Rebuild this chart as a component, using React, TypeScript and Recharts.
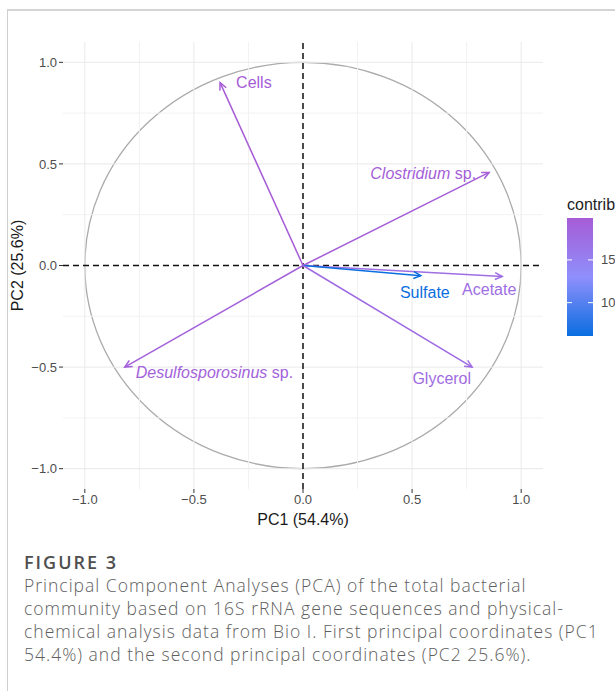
import {
  ComposedChart, XAxis, YAxis, Scatter, ReferenceLine, ReferenceArea
} from 'recharts'

// variable loadings on PC1 / PC2 and their contribution (%)
const variables = ['Cells', 'Clostridium sp.', 'Acetate', 'Sulfate', 'Glycerol', 'Desulfosporosinus sp.']
const pc1 = [-0.38, 0.853, 0.913, 0.54, 0.775, -0.817]
const pc2 = [0.9, 0.458, -0.054, -0.05, -0.5, -0.5]
const contrib = [19.9, 19.6, 17.5, 6.1, 17.7, 19.1]

const axisTicks = [-1, -0.5, 0, 0.5, 1]
const minorGrid = [-0.75, -0.25, 0.25, 0.75]
const majorGrid = [-1, -0.5, 0.5, 1]
const legendTicks = [10, 15]
const contribRange = [6.1, 19.9]

const FONT = '"Liberation Sans", Arial, Helvetica, sans-serif'
const LOW = [10, 110, 224]
const MID = [143, 143, 252]
const HIGH = [166, 92, 214]

// label placement relative to the arrow tip, in pixels
const labelStyle: Record<string, { dx: number; dy: number; anchor: 'start' | 'middle' | 'end' }> = {
  'Cells': { dx: 16, dy: 0, anchor: 'start' },
  'Clostridium sp.': { dx: -13, dy: 1, anchor: 'end' },
  'Acetate': { dx: -13, dy: 13, anchor: 'middle' },
  'Sulfate': { dx: 4, dy: 17, anchor: 'middle' },
  'Glycerol': { dx: -1, dy: 11, anchor: 'end' },
  'Desulfosporosinus sp.': { dx: 11, dy: 5, anchor: 'start' },
}

const mix = (a: number[], b: number[], t: number) =>
  `rgb(${a.map((c, i) => Math.round(c + (b[i] - c) * t)).join(',')})`

function contribColor(v: number): string {
  const [lo, hi] = contribRange
  const mid = (lo + hi) / 2
  if (v <= mid) return mix(LOW, MID, (v - lo) / (mid - lo))
  return mix(MID, HIGH, (v - mid) / (hi - mid))
}

const points = variables.map((name, i) => ({
  name, x: pc1[i], y: pc2[i], color: contribColor(contrib[i]),
}))

const fmt = (v: number) => (v < 0 ? '\u2212' + Math.abs(v).toFixed(1) : v.toFixed(1))

function Arrow(props: any) {
  const { x1, y1, x2, y2, color } = props
  const a = Math.atan2(y2 - y1, x2 - x1)
  const len = 8
  const spread = 0.45
  const h1x = x2 - len * Math.cos(a - spread)
  const h1y = y2 - len * Math.sin(a - spread)
  const h2x = x2 - len * Math.cos(a + spread)
  const h2y = y2 - len * Math.sin(a + spread)
  return (
    <g stroke={color} strokeWidth={1.5} fill="none">
      <line x1={x1} y1={y1} x2={x2} y2={y2} />
      <polyline points={`${h1x},${h1y} ${x2},${y2} ${h2x},${h2y}`} />
    </g>
  )
}

function Label(props: any) {
  const { cx, cy, payload } = props
  const s = labelStyle[payload.name]
  const italic = payload.name.endsWith(' sp.')
  const base = italic ? payload.name.slice(0, -4) : payload.name
  return (
    <text x={cx + s.dx} y={cy + s.dy} textAnchor={s.anchor} dominantBaseline="central"
      fill={payload.color} fontSize={16} fontFamily={FONT}>
      {italic ? (
        <>
          <tspan fontStyle="italic">{base}</tspan>
          <tspan>{' sp.'}</tspan>
        </>
      ) : base}
    </text>
  )
}

function Ellipse(props: any) {
  const { x, y, width, height } = props
  return (
    <ellipse cx={x + width / 2} cy={y + height / 2} rx={width / 2} ry={height / 2}
      fill="none" stroke="#ababab" strokeWidth={1.3} />
  )
}

function Legend() {
  const top = 218
  const h = 118
  const yOf = (v: number) => top + ((contribRange[1] - v) / (contribRange[1] - contribRange[0])) * h
  return (
    <svg width={615} height={540} style={{ position: 'absolute', left: 0, top: 0, pointerEvents: 'none' }}>
      <defs>
        <linearGradient id="contribGrad" x1="0" y1="0" x2="0" y2="1">
          <stop offset="0%" stopColor={mix(HIGH, HIGH, 0)} />
          <stop offset="50%" stopColor={mix(MID, MID, 0)} />
          <stop offset="100%" stopColor={mix(LOW, LOW, 0)} />
        </linearGradient>
      </defs>
      <text x={567} y={204} dominantBaseline="central" fontSize={16} fontFamily={FONT} fill="#222">
        contrib
      </text>
      <rect x={567} y={top} width={26} height={h} fill="url(#contribGrad)" />
      {legendTicks.map(v => (
        <g key={v}>
          <line x1={567} x2={572} y1={yOf(v)} y2={yOf(v)} stroke="#fff" strokeWidth={1} />
          <line x1={588} x2={593} y1={yOf(v)} y2={yOf(v)} stroke="#fff" strokeWidth={1} />
          <text x={601} y={yOf(v)} dominantBaseline="central" fontSize={13} fontFamily={FONT} fill="#4d4d4d">
            {v}
          </text>
        </g>
      ))}
    </svg>
  )
}

const captionLines = [
  'Principal Component Analyses (PCA) of the total bacterial',
  'community based on 16S rRNA gene sequences and physical-',
  'chemical analysis data from Bio I. First principal coordinates (PC1',
  '54.4%) and the second principal coordinates (PC2 25.6%).',
]

export default function App() {
  const tick = { fill: '#4d4d4d', fontSize: 13, fontFamily: FONT }
  return (
    <div style={{ position: 'absolute', left: 0, top: 0, width: 615, height: 691, overflow: 'hidden', background: '#fff' }}>
      <div style={{
        position: 'absolute', left: 7, top: 9, width: 700, height: 700,
        borderTop: '2px solid #d4d4d4', borderLeft: '1px solid #cfcfcf',
      }} />
      <div style={{ position: 'absolute', left: 0, top: 0 }}>
        <ComposedChart width={615} height={540} margin={{ top: 42, right: 72, bottom: 11, left: 23 }}>
          <XAxis
            type="number" dataKey="x" domain={[-1.1, 1.1]} ticks={axisTicks} tickFormatter={fmt}
            axisLine={false} tickSize={4} tickMargin={2} tick={tick} tickLine={{ stroke: '#333' }}
            height={40} allowDataOverflow
            label={({ viewBox }: any) => (
              <text x={viewBox.x + viewBox.width / 2} y={viewBox.y + 30} textAnchor="middle"
                dominantBaseline="central" fontSize={16} fontFamily={FONT} fill="#1a1a1a">
                PC1 (54.4%)
              </text>
            )}
          />
          <YAxis
            type="number" dataKey="y" domain={[-1.1, 1.1]} ticks={axisTicks} tickFormatter={fmt}
            axisLine={false} tickSize={4} tickMargin={2} tick={tick} tickLine={{ stroke: '#333' }}
            width={40} allowDataOverflow
            label={({ viewBox }: any) => {
              const cx = 17
              const cy = viewBox.y + viewBox.height / 2
              return (
                <text x={cx} y={cy} textAnchor="middle" dominantBaseline="central"
                  transform={`rotate(-90 ${cx} ${cy})`} fontSize={16} fontFamily={FONT} fill="#1a1a1a">
                  PC2 (25.6%)
                </text>
              )
            }}
          />
          {minorGrid.map(v => <ReferenceLine key={'vx' + v} x={v} stroke="#f2f2f2" strokeWidth={1} />)}
          {minorGrid.map(v => <ReferenceLine key={'vy' + v} y={v} stroke="#f2f2f2" strokeWidth={1} />)}
          {majorGrid.map(v => <ReferenceLine key={'mx' + v} x={v} stroke="#e9e9e9" strokeWidth={1} />)}
          {majorGrid.map(v => <ReferenceLine key={'my' + v} y={v} stroke="#e9e9e9" strokeWidth={1} />)}
          <ReferenceArea x1={-1} x2={1} y1={-1} y2={1} shape={<Ellipse />} />
          <ReferenceLine x={0} stroke="#111" strokeWidth={1.5} strokeDasharray="6 4" />
          <ReferenceLine y={0} stroke="#111" strokeWidth={1.5} strokeDasharray="6 4" />
          {points.map(p => (
            <ReferenceLine key={p.name} segment={[{ x: 0, y: 0 }, { x: p.x, y: p.y }]}
              shape={(lp: any) => <Arrow {...lp} color={p.color} />} />
          ))}
          <Scatter data={points} dataKey="y" shape={<Label />} isAnimationActive={false} />
        </ComposedChart>
        <Legend />
      </div>
      <div style={{
        position: 'absolute', left: 24, top: 551, fontFamily: '"Open Sans", sans-serif',
        whiteSpace: 'nowrap', lineHeight: '23px',
      }}>
        <div style={{ fontSize: 18, fontWeight: 600, color: '#4f4f4f', letterSpacing: 2 }}>FIGURE 3</div>
        {captionLines.map(l => (
          <div key={l} style={{ fontSize: 17.5, fontWeight: 300, color: '#5e5e5e', letterSpacing: 1 }}>{l}</div>
        ))}
      </div>
    </div>
  )
}
